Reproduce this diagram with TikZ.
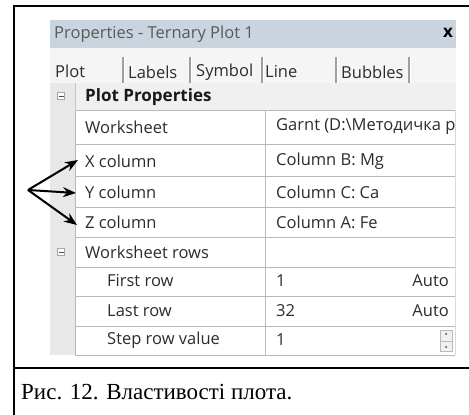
\documentclass[tikz,border=0pt]{standalone}
\usepackage{fontspec}
\setmainfont{Liberation Serif}
\newfontfamily\uifont{Open Sans}
\usetikzlibrary{arrows.meta}
\definecolor{titlebg}{HTML}{C9D4DF}
\definecolor{tabbg}{HTML}{F5F5F5}
\definecolor{hdrbg}{HTML}{F0F0F0}
\definecolor{leftbg}{HTML}{E8E8E8}
\definecolor{gridc}{HTML}{B9B9B9}
\definecolor{uitext}{HTML}{2C2C2C}
\tikzset{
  ui/.style={font=\uifont\fontsize{16.5}{18}\selectfont, text=uitext, inner sep=0pt, anchor=west},
  uib/.style={font=\uifont\bfseries\fontsize{17}{19}\selectfont, text=black!90, inner sep=0pt, anchor=west},
  tabsep/.style={draw=gray!75, line width=1.2pt},
  grid/.style={draw=gridc, line width=0.9pt},
  frame/.style={draw=black, line width=2pt},
  pointer/.style={-{Stealth[length=13pt,width=10pt]}, line width=2pt, black},
  minbox/.style={draw=gray!70, fill=white, line width=0.6pt, minimum width=7pt, minimum height=7pt, inner sep=0pt}
}
\begin{document}
\begin{tikzpicture}[x=1pt,y=-1pt]
\useasboundingbox (0,0) rectangle (469,415);
\fill[white] (0,0) rectangle (469,415);
% title bar
\fill[titlebg] (50,20) rectangle (456,48);
\node[ui, text=gray!70!black] (title) at (54,34) {Properties - Ternary Plot 1};
\node[inner sep=0pt, font=\uifont\bfseries\fontsize{17}{19}\selectfont] (close) at (448,33) {x};
% tab area
\fill[tabbg] (50,48) rectangle (456,83);
\foreach \x in {123,190,262,336,409} {
  \draw[tabsep] (\x,57) -- (\x,83);
  \draw[white, line width=0.8pt] (\x+1.2,57) -- (\x+1.2,83);
}
\draw[grid, draw=gray!50] (123,83) -- (456,83);
\node[ui] (tplot) at (55,71) {Plot};
\node[ui] (tlabels) at (128,72) {Labels};
\node[ui] (tsymbol) at (196,72) {Symbol};
\node[ui] (tline) at (265,72) {Line};
\node[ui] (tbubbles) at (341,72) {Bubbles};
% header row
\fill[hdrbg] (50,83) rectangle (456,110);
\fill[leftbg] (50,83) rectangle (75,355);
\draw[grid, draw=gray!45] (75,83) -- (75,110);
\node[minbox] (m1) at (61,96) {};
\draw[gray!60!black, line width=0.7pt] (58.5,96) -- (63.5,96);
\node[uib] (hdr) at (85,97) {Plot Properties};
% table cells
\fill[white] (75,110) rectangle (456,355);
\foreach \y in {110,144,176,207,237,267,296,326,355} {
  \draw[grid] (75,\y) -- (455,\y);
}
\draw[grid] (75,110) -- (75,355);
\draw[grid] (265,110) -- (265,355);
\draw[grid, draw=gray!30] (455,110) -- (455,355);
% section minus
\node[minbox] (m2) at (61,252) {};
\draw[gray!60!black, line width=0.7pt] (58.5,252) -- (63.5,252);
% texts
\node[ui] (ws) at (85,127) {Worksheet};
\begin{scope}
\clip (266,110) rectangle (455,144);
\node[ui] (wsv) at (276,127) {Garnt (D:\textbackslash Методичка р};
\end{scope}
\node[ui] (xlab) at (85,161) {X column};
\node[ui] (xval) at (276,161) {Column B: Mg};
\node[ui] (ylab) at (85,192) {Y column};
\node[ui] (yval) at (276,192) {Column C: Ca};
\node[ui] (zlab) at (85,222) {Z column};
\node[ui] (zval) at (276,222) {Column A: Fe};
\node[ui] (wr) at (85,252) {Worksheet rows};
\node[ui] (fr) at (107,281) {First row};
\node[ui] (frv) at (276,281) {1};
\node[ui, anchor=east] (fra) at (449,281) {Auto};
\node[ui] (lr) at (107,311) {Last row};
\node[ui] (lrv) at (276,311) {32};
\node[ui, anchor=east] (lra) at (449,311) {Auto};
\node[ui] (sr) at (107,340) {Step row value};
\node[ui] (srv) at (276,340) {1};
% spinner
\node[draw=gray!55, fill=hdrbg, minimum width=12pt, minimum height=21pt, inner sep=0pt] (spin) at (446,341) {};
\draw[gray!55] (spin.west) -- (spin.east);
\fill[gray!50!black] (446,334) circle (1pt);
\fill[gray!50!black] (446,347) circle (1pt);
% arrows
\coordinate (orig) at (28,190);
\draw[pointer] (orig) -- ([xshift=-7pt,yshift=1pt]xlab.west);
\draw[pointer] (orig) -- ([xshift=-9pt,yshift=-1pt]ylab.west);
\draw[pointer] (orig) -- ([xshift=-8pt,yshift=-3pt]zlab.west);
% outer frame
\draw[frame] (14,415) -- (14,6) -- (469,6);
\draw[frame] (14,368) -- (469,368);
% caption
\node[inner sep=0pt, anchor=base west, font=\fontsize{23}{27}\selectfont] (cap) at (21,399) {Рис. 12. Властивості плота.};
\end{tikzpicture}
\end{document}
